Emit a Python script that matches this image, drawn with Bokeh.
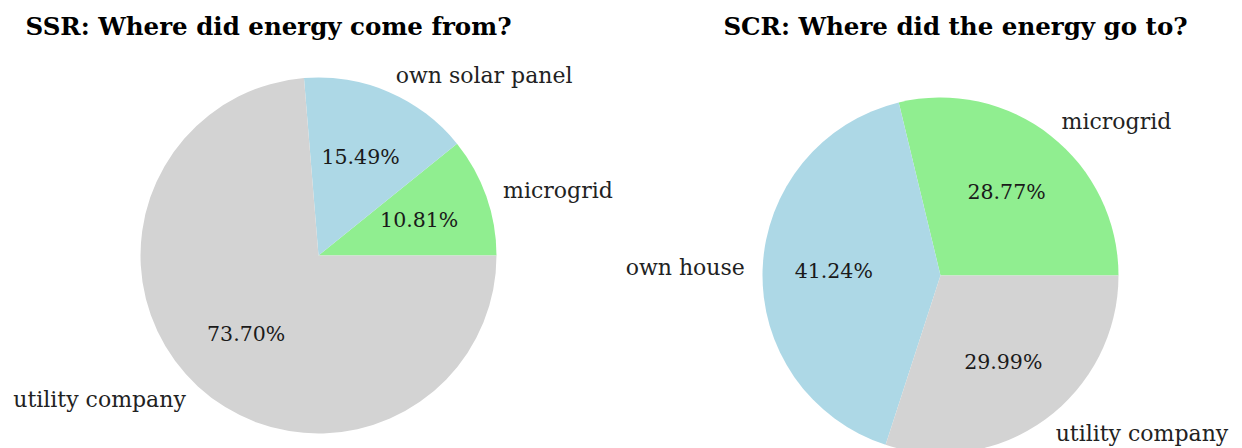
import numpy as np
from bokeh.plotting import figure
from bokeh.models import Range1d, ColumnDataSource
from bokeh.core.properties import value
from bokeh.embed import file_html
from bokeh.resources import INLINE

# ---- data ----
ssr_labels = ["microgrid", "own solar panel", "utility company"]
ssr_values = [10.81, 15.49, 73.70]
ssr_colors = ["#90EE90", "#ADD8E6", "#D3D3D3"]
ssr_title = "SSR: Where did energy come from?"

scr_labels = ["microgrid", "own house", "utility company"]
scr_values = [28.77, 41.24, 29.99]
scr_colors = ["#90EE90", "#ADD8E6", "#D3D3D3"]
scr_title = "SCR: Where did the energy go to?"

FONT = "DejaVu Serif"
W, H = 1242, 448
# data coordinates == picture pixels (x from left, y up from the bottom)
p = figure(width=W, height=H, output_backend="svg", toolbar_location=None,
           x_range=Range1d(0, W), y_range=Range1d(0, H),
           min_border=0)
p.axis.visible = False
p.grid.visible = False
p.outline_line_color = None
p.background_fill_color = "white"

R = 178


def pie(cx, cy, labels, values, colors, title, tx):
    v = np.array(values, dtype=float)
    frac = v / v.sum()
    ends = np.cumsum(frac) * 2 * np.pi
    starts = np.concatenate([[0.0], ends[:-1]])
    mids = (starts + ends) / 2
    src = ColumnDataSource(dict(start=starts, end=ends, color=colors))
    p.wedge(x=cx, y=cy, radius=R, start_angle="start", end_angle="end",
            fill_color="color", line_color=None, source=src)
    # percentage labels
    pct = [f"{x:.2f}%" for x in frac * 100]
    p.text(x=cx + 0.6 * R * np.cos(mids), y=cy + 0.6 * R * np.sin(mids), text=pct,
           text_font=value(FONT), text_font_size="20.5px", text_color="#1a1a1a",
           text_align="center", text_baseline="middle")
    # category labels
    lx = cx + 1.1 * R * np.cos(mids)
    ly = cy + 1.1 * R * np.sin(mids)
    aligns = ["left" if np.cos(m) >= 0 else "right" for m in mids]
    for x, y, t, a in zip(lx, ly, labels, aligns):
        p.text(x=[x], y=[y], text=[t], text_font=value(FONT), text_font_size="22px",
               text_color="#222222", text_align=a, text_baseline="middle")
    p.text(x=[tx], y=[H - 26], text=[title], text_font=value(FONT),
           text_font_size="24.5px", text_font_style="bold", text_color="black",
           text_align="center", text_baseline="middle")


pie(318, H - 255, ssr_labels, ssr_values, ssr_colors, ssr_title, 268)
pie(940, H - 275, scr_labels, scr_values, scr_colors, scr_title, 955)

open("out.html", "w").write(file_html(p, INLINE))
